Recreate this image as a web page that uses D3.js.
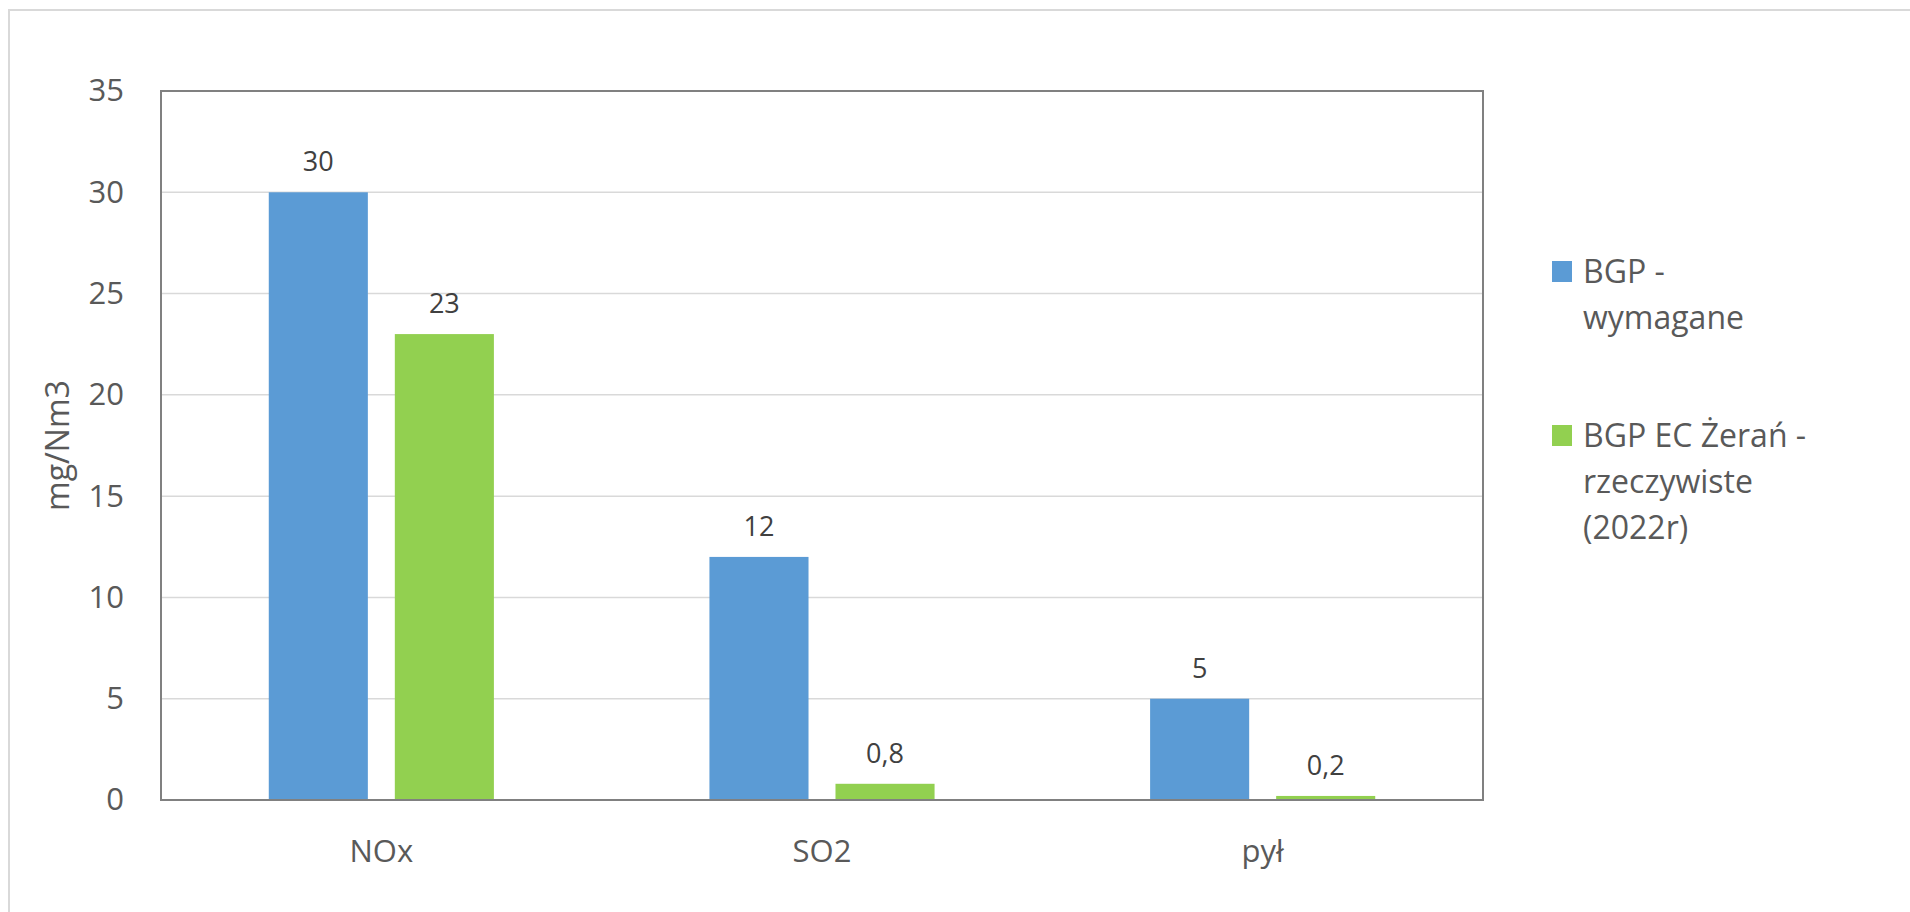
<!DOCTYPE html>
<html>
<head>
<meta charset="utf-8">
<script src="https://cdn.jsdelivr.net/npm/d3@7"></script>
<style>
  html, body { margin: 0; padding: 0; background: #fff; }
  svg { display: block; font-family: "Open Sans", "Noto Sans", sans-serif; }
</style>
</head>
<body>
<svg id="chart" width="1910" height="912"></svg>
<script>
// Emission values per pollutant (mg/Nm3)
const categories = ["NOx", "SO2", "pył"];
const seriesNames = ["BGP - wymagane", "BGP EC Żerań - rzeczywiste (2022r)"];
const required = [30, 12, 5];
const actual = [23, 0.8, 0.2];
const yTicks = [0, 5, 10, 15, 20, 25, 30, 35];
const legendLines = [["BGP -", "wymagane"], ["BGP EC Żerań -", "rzeczywiste", "(2022r)"]];
const colors = ["#5B9BD5", "#92D050"];

const svg = d3.select("#chart");

// outer chart frame
svg.append("rect")
  .attr("x", 9).attr("y", 10)
  .attr("width", 1920).attr("height", 920)
  .attr("fill", "none").attr("stroke", "#D9D9D9").attr("stroke-width", 2);

const plot = { left: 161, right: 1483, top: 91, bottom: 800 };

const y = d3.scaleLinear().domain([0, 35]).range([plot.bottom, plot.top]);
const x0 = d3.scaleBand().domain(categories).range([plot.left, plot.right]).padding(0);
const x1 = d3.scaleBand().domain(d3.range(seriesNames.length))
  .range([0, x0.bandwidth()]).paddingInner(0.214).paddingOuter(0.855);

// gridlines
svg.append("g")
  .selectAll("line")
  .data(yTicks.filter(t => t > 0 && t < 35))
  .join("line")
  .attr("x1", plot.left).attr("x2", plot.right)
  .attr("y1", d => y(d)).attr("y2", d => y(d))
  .attr("stroke", "#D9D9D9").attr("stroke-width", 1.5);

// y axis tick labels
const yAxis = d3.axisLeft(y).tickValues(yTicks).tickSize(0).tickPadding(37)
  .tickFormat(d3.format("d"));
const gy = svg.append("g").attr("transform", `translate(${plot.left},0)`).call(yAxis);
gy.select(".domain").remove();
gy.selectAll("text")
  .attr("font-family", "Open Sans")
  .attr("font-size", 31)
  .attr("fill", "#595959");

// x axis category labels
const xAxis = d3.axisBottom(x0).tickSize(0).tickPadding(0);
const gx = svg.append("g").attr("transform", `translate(0,${plot.bottom})`).call(xAxis);
gx.select(".domain").remove();
gx.selectAll("text")
  .attr("dy", null)
  .attr("y", 62)
  .attr("font-family", "Open Sans")
  .attr("font-size", 31)
  .attr("fill", "#595959");

// bars
const rows = categories.map((c, i) => ({ cat: c, values: [required[i], actual[i]] }));
const groups = svg.append("g").selectAll("g")
  .data(rows).join("g")
  .attr("transform", d => `translate(${x0(d.cat)},0)`);

groups.selectAll("rect")
  .data(d => d.values.map((v, s) => ({ v, s })))
  .join("rect")
  .attr("x", d => x1(d.s))
  .attr("width", x1.bandwidth())
  .attr("y", d => y(d.v))
  .attr("height", d => y(0) - y(d.v))
  .attr("fill", d => colors[d.s]);

// value labels
const fmt = v => String(v).replace(".", ",");
groups.selectAll("text.val")
  .data(d => d.values.map((v, s) => ({ v, s })))
  .join("text")
  .attr("class", "val")
  .attr("x", d => x1(d.s) + x1.bandwidth() / 2)
  .attr("y", d => y(d.v) - 21)
  .attr("text-anchor", "middle")
  .attr("font-size", 27)
  .attr("fill", "#404040")
  .text(d => fmt(d.v));

// plot area border
svg.append("rect")
  .attr("x", plot.left).attr("y", plot.top)
  .attr("width", plot.right - plot.left).attr("height", plot.bottom - plot.top)
  .attr("fill", "none").attr("stroke", "#808080").attr("stroke-width", 2);

// y axis title
svg.append("text")
  .attr("transform", `translate(69,${(plot.top + plot.bottom) / 2}) rotate(-90)`)
  .attr("text-anchor", "middle")
  .attr("font-size", 32)
  .attr("fill", "#595959")
  .text("mg/Nm3");

// legend
const legendY = [272, 436];
const legend = svg.append("g").selectAll("g")
  .data(seriesNames).join("g")
  .attr("transform", (d, i) => `translate(1552,${legendY[i]})`);

legend.append("rect")
  .attr("x", 0).attr("y", -11)
  .attr("width", 20).attr("height", 21)
  .attr("fill", (d, i) => colors[i]);

legend.append("text")
  .attr("x", 31).attr("y", 11)
  .attr("font-size", 32)
  .attr("fill", "#595959")
  .selectAll("tspan")
  .data((d, i) => legendLines[i])
  .join("tspan")
  .attr("x", 31)
  .attr("dy", (d, j) => j === 0 ? 0 : 46)
  .text(d => d);
</script>
</body>
</html>
